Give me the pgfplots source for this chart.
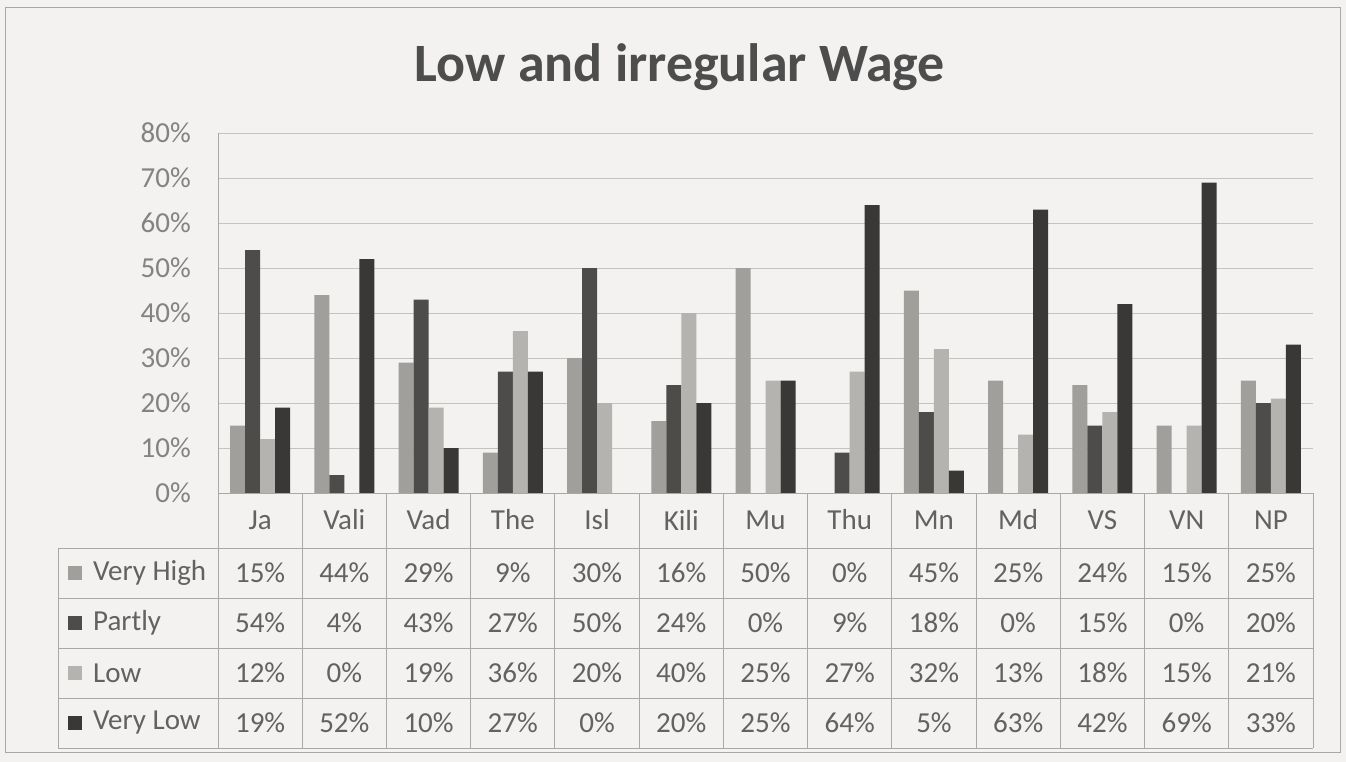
\documentclass[border=0pt]{standalone}
\usepackage{pgfplots}
\usepackage{pgfplotstable}
\usepackage{fontspec}
\setmainfont{Carlito}
\pgfplotsset{compat=1.18}

\definecolor{bgpage}{HTML}{F3F2F0}
\definecolor{vhigh}{HTML}{A19F9C}
\definecolor{partly}{HTML}{4E4C4A}
\definecolor{lowc}{HTML}{B5B3B0}
\definecolor{vlow}{HTML}{3A3836}
\definecolor{gridc}{HTML}{C4C3C1}
\definecolor{tabline}{HTML}{A9A8A6}
\definecolor{txt}{HTML}{626262}
\definecolor{tickc}{HTML}{838383}
\definecolor{titlec}{HTML}{4D4D4D}

% percent per site
\pgfplotstableread{
x cat  VH P  L  VL
0  Ja   15 54 12 19
1  Vali 44 4  0  52
2  Vad  29 43 19 10
3  The  9  27 36 27
4  Isl  30 50 20 0
5  Kili 16 24 40 20
6  Mu   50 0  25 25
7  Thu  0  9  27 64
8  Mn   45 18 32 5
9  Md   25 0  13 63
10 VS   24 15 18 42
11 VN   15 0  15 69
12 NP   25 20 21 33
}\wagedata

\begin{document}
\begin{tikzpicture}[x=1pt,y=1pt]
\fill[bgpage] (0,0) rectangle (1346,-762);
\useasboundingbox (0,0) rectangle (1346,-762);
\draw[tabline,line width=0.8pt] (5,-7) rectangle (1340,-752);

\node[anchor=base,text=titlec,font=\fontsize{54}{60}\selectfont\bfseries] at (680,-82) {Low and irregular Wage};

\begin{axis}[
    at={(218pt,-493pt)}, anchor=south west,
    scale only axis, width=1095pt, height=360pt,
    xmin=-0.5, xmax=12.5, ymin=0, ymax=80,
    ybar=0pt, bar width=15pt,
    axis line style={draw=none},
    major tick length=0pt,
    xtick=\empty,
    ytick={0,10,...,80},
    yticklabels={0\%,10\%,20\%,30\%,40\%,50\%,60\%,70\%,80\%},
    yticklabel style={font=\fontsize{29}{32}\selectfont, text=tickc, inner sep=0pt, xshift=-27pt},
    ymajorgrids, major grid style={draw=gridc, line width=1pt},
    clip=false,
]
\addplot[fill=vhigh, draw=none] table[x=x,y=VH]{\wagedata};
\addplot[fill=partly, draw=none] table[x=x,y=P]{\wagedata};
\addplot[fill=lowc, draw=none] table[x=x,y=L]{\wagedata};
\addplot[fill=vlow, draw=none] table[x=x,y=VL]{\wagedata};
\end{axis}

% data table under the plot
\def\cw{84.23}
\begin{scope}[tabline, line width=1pt]
\draw (218,-133) -- (218,-748);
\draw (218,-493) -- (1313,-493);
\foreach \yy in {548,598,648,698,748} \draw (58,-\yy) -- (1313,-\yy);
\draw (58,-548) -- (58,-748);
\foreach \k in {1,...,13} \draw (218+\k*\cw,-493) -- (218+\k*\cw,-748);
\end{scope}

\foreach \r in {0,...,12} {
  \pgfplotstablegetelem{\r}{cat}\of\wagedata
  \node[text=txt,font=\fontsize{29}{32}\selectfont] at (218+\r*\cw+0.5*\cw,-520) {\pgfplotsretval};
  \pgfplotstablegetelem{\r}{VH}\of\wagedata
  \node[text=txt,font=\fontsize{29}{32}\selectfont] at (218+\r*\cw+0.5*\cw,-573) {\pgfplotsretval\%};
  \pgfplotstablegetelem{\r}{P}\of\wagedata
  \node[text=txt,font=\fontsize{29}{32}\selectfont] at (218+\r*\cw+0.5*\cw,-623) {\pgfplotsretval\%};
  \pgfplotstablegetelem{\r}{L}\of\wagedata
  \node[text=txt,font=\fontsize{29}{32}\selectfont] at (218+\r*\cw+0.5*\cw,-673) {\pgfplotsretval\%};
  \pgfplotstablegetelem{\r}{VL}\of\wagedata
  \node[text=txt,font=\fontsize{29}{32}\selectfont] at (218+\r*\cw+0.5*\cw,-723) {\pgfplotsretval\%};
}

% legend keys
\foreach \c/\lab/\yy in {vhigh/Very High/573, partly/Partly/623, lowc/Low/673, vlow/Very Low/723} {
  \fill[\c] (68,-\yy+7) rectangle (82,-\yy-7);
  \node[anchor=west,inner sep=0pt,text=txt,font=\fontsize{29}{32}\selectfont] at (93,-\yy) {\lab};
}
\end{tikzpicture}
\end{document}
